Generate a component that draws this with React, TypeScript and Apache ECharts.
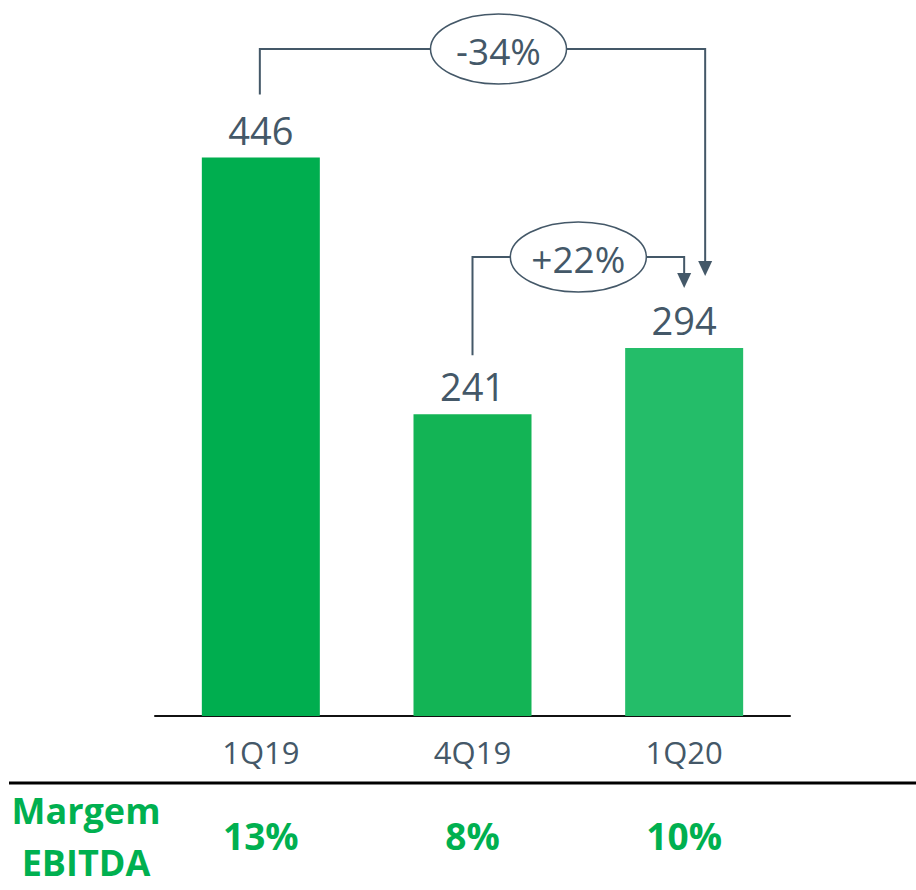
import React, { useEffect, useRef } from "react";
import * as echarts from "echarts";

const categories = ["1Q19", "4Q19", "1Q20"];
const ebitda = [446, 241, 294];
const margins = ["13%", "8%", "10%"];
const changes = ["-34%", "+22%"];
const barColors = ["#00AE4F", "#13B455", "#24BD69"];
const marginTitle = "Margem\nEBITDA";

export default function App() {
  const ref = useRef<HTMLDivElement>(null);
  useEffect(() => {
    document.body.style.margin = "0";
    const chart = echarts.init(ref.current!, null, { renderer: "svg" });
    const slate = "#445868";
    const green = "#00B050";
    const font = "'Open Sans', sans-serif";
    chart.setOption({
      animation: false,
      grid: { left: 155, right: 126, top: 90, bottom: 174 },
      xAxis: [
        {
          type: "category",
          data: categories,
          axisLine: { lineStyle: { color: "#111", width: 2 } },
          axisTick: { show: false },
          axisLabel: { color: slate, fontSize: 31, fontFamily: font, margin: 20 },
        },
        {
          type: "category",
          data: margins,
          position: "bottom",
          gridIndex: 0,
          axisLine: { show: false },
          axisTick: { show: false },
          axisLabel: { color: green, fontWeight: "bold", fontSize: 37, fontFamily: font, margin: 101 },
        },
      ],
      yAxis: { type: "value", min: 0, max: 500, show: false, splitLine: { show: false } },
      series: [
        {
          type: "bar",
          xAxisIndex: 0,
          data: ebitda.map((v, i) => ({ value: v, itemStyle: { color: barColors[i] } })),
          barWidth: 118,
          label: { show: true, position: "top", distance: 9, color: slate, fontSize: 38, fontFamily: font },
        },
      ],
    });

    const p = ebitda.map((v, i) => chart.convertToPixel({ xAxisIndex: 0, yAxisIndex: 0 }, [i, v]) as number[]);

    const bracket = (lx: number, by: number, ty: number, rx: number, tip: number, cx: number, label: string) => {
      const line = { stroke: slate, lineWidth: 2, fill: "none" };
      return [
        { type: "polyline", z: 10, shape: { points: [[lx, by], [lx, ty], [rx, ty], [rx, tip - 14]] }, style: line },
        { type: "polygon", z: 10, shape: { points: [[rx - 7, tip - 15], [rx + 7, tip - 15], [rx, tip]] }, style: { fill: slate } },
        { type: "ellipse", z: 11, shape: { cx, cy: ty, rx: 68, ry: 35 }, style: { fill: "#fff", stroke: slate, lineWidth: 1.5 } },
        {
          type: "text", z: 12, x: cx, y: ty + 1,
          style: { text: label, fill: slate, fontSize: 37, fontFamily: font, align: "center", verticalAlign: "middle", textAlign: "center", textVerticalAlign: "middle" },
        },
      ];
    };

    const b1l = p[0][0] - 1, b1r = p[2][0] + 21;
    const b2l = p[1][0], b2r = p[2][0];

    chart.setOption({
      graphic: [
        ...bracket(b1l, p[0][1] - 63, 49, b1r, p[2][1] - 72, (b1l + b1r) / 2 + 16, changes[0]),
        ...bracket(b2l, p[1][1] - 59, 257, b2r, p[2][1] - 60, (b2l + b2r) / 2, changes[1]),
        { type: "line", shape: { x1: 9, y1: 783, x2: 916, y2: 783 }, style: { stroke: "#000", lineWidth: 3 } },
        {
          type: "text", x: 86, y: 836,
          style: { text: marginTitle, fill: green, fontSize: 36, fontWeight: "bold", fontFamily: font, lineHeight: 52, align: "center", verticalAlign: "middle", textAlign: "center", textVerticalAlign: "middle" },
        },
      ],
    });

    return () => chart.dispose();
  }, []);
  return <div ref={ref} style={{ width: 916, height: 890 }} />;
}
